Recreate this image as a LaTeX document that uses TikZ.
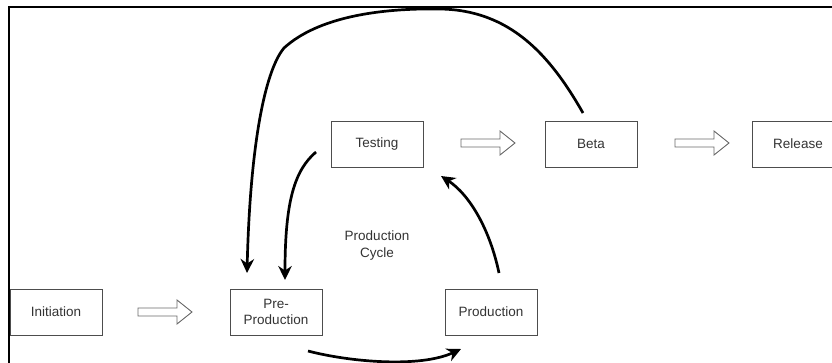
\documentclass[tikz,border=0pt]{standalone}
\usepackage{fontspec}
\setmainfont{Liberation Sans}
\usetikzlibrary{arrows.meta}
\definecolor{boxline}{HTML}{4D4D4D}
\definecolor{txt}{HTML}{333333}
\definecolor{hollowline}{HTML}{6A6A6A}

\tikzset{
  stage/.style={draw=boxline, line width=0.9pt, minimum width=92pt, minimum height=46pt,
    inner sep=0pt, text=txt, font=\fontsize{13.5}{16}\selectfont, align=center},
  label/.style={text=txt, font=\fontsize{13.5}{17}\selectfont, align=center, inner sep=0pt},
  flow/.style={line width=2.7pt, -{Stealth[length=14pt,width=13.5pt,inset=4.5pt]}},
  frameline/.style={line width=1.5pt, black},
  pics/hollowarrow/.style={code={
    \draw[draw=hollowline, fill=white, line width=0.9pt, line join=miter]
      (0,-4) -- (39,-4) -- (39,-12) -- (54,0) -- (39,12) -- (39,4) -- (0,4) -- cycle;}}
}

\begin{document}
\begin{tikzpicture}[x=1pt, y=-1pt]
  \clip (0,0) rectangle (832,363);
  \fill[white] (0,0) rectangle (832,363);

  % outer frame (left and top edges)
  \draw[frameline] (9,364) -- (9,7) -- (833,7);

  % stages
  \node[stage] (init)    at (56,312)  {Initiation};
  \node[stage] (preprod) at (276,312) {Pre-\\Production};
  \node[stage] (prod)    at (491,312) {Production};
  \node[stage] (test)    at (377,144) {Testing};
  \node[stage] (beta)    at (591,144) {Beta};
  \node[stage] (release) at (798,144) {Release};

  \node[label] (cycle) at (377,246) {Production\\Cycle};

  % hollow block arrows between stages
  \pic (ha1) at (138,312) {hollowarrow};
  \pic (ha2) at (461,143) {hollowarrow};
  \pic (ha3) at (675,143) {hollowarrow};

  % end points of the curved connectors
  \coordinate (betaout)  at (583,113);
  \coordinate (apex)     at (440,9);
  \coordinate (shoulder) at (284,48);
  \coordinate (prein1)   at (247,273);
  \coordinate (testout)  at (316,152);
  \coordinate (prein2)   at (285,280);
  \coordinate (prodout)  at (499,273);
  \coordinate (testin)   at (441,176);
  \coordinate (preout)   at (308,351);
  \coordinate (prodin)   at (461,349);

  % Beta back to Pre-Production over the top
  \draw[flow] (betaout) .. controls (550,55) and (510,10) .. (apex)
              .. controls (380,8) and (318,17) .. (shoulder)
              .. controls (264,72) and (250,150) .. (prein1);

  % Testing back to Pre-Production
  \draw[flow] (testout) .. controls (295,170) and (285,200) .. (prein2);

  % Production to Testing
  \draw[flow] (prodout) .. controls (490,230) and (470,195) .. (testin);

  % Pre-Production to Production
  \draw[flow] (preout) .. controls (350,362) and (420,368) .. (prodin);
\end{tikzpicture}
\end{document}
